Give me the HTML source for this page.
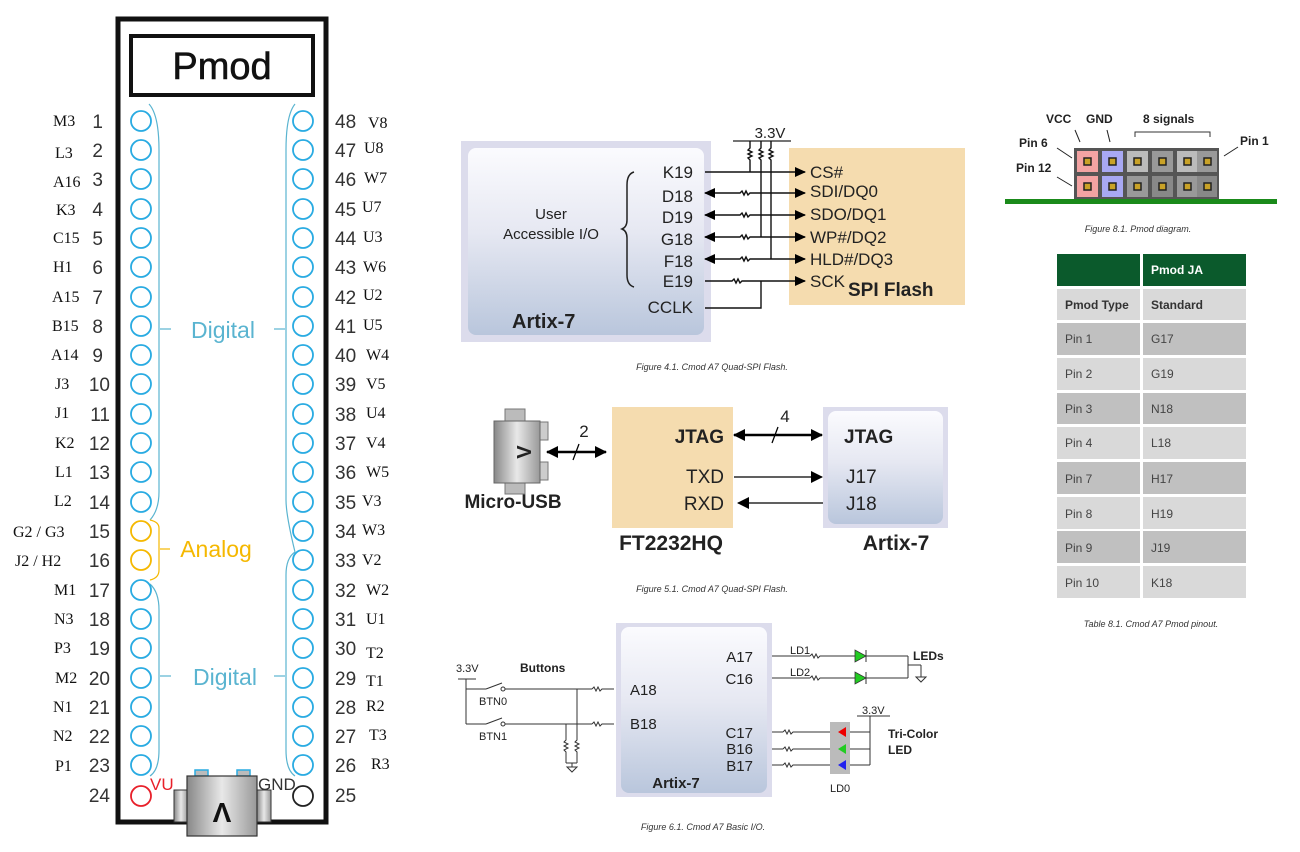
<!DOCTYPE html>
<html><head><meta charset="utf-8"><style>
html,body{margin:0;padding:0;background:#fff;width:1300px;height:852px;overflow:hidden}
svg{display:block}
.sr{font-family:"Liberation Serif",serif;font-size:16px;fill:#111}
.nm{font-family:"Liberation Sans",sans-serif;font-size:19px;fill:#333}
.a{font-family:"Liberation Sans",sans-serif;fill:#222}
.cap{font-family:"Liberation Sans",sans-serif;font-size:9px;font-style:italic;fill:#333}
.pc{fill:none;stroke:#29abe2;stroke-width:1.8}
.tb{font-family:"Liberation Sans",sans-serif;font-size:12px;fill:#444}
</style></head><body>
<svg width="1300" height="852" viewBox="0 0 1300 852" xmlns="http://www.w3.org/2000/svg">
<defs>
<linearGradient id="ag" x1="0" y1="0" x2="0" y2="1"><stop offset="0" stop-color="#fbfbfe"/><stop offset="0.45" stop-color="#e6e8f2"/><stop offset="1" stop-color="#b9c6dc"/></linearGradient>
<linearGradient id="ug" x1="0" y1="0" x2="1" y2="0"><stop offset="0" stop-color="#888"/><stop offset="0.5" stop-color="#e8e8e8"/><stop offset="1" stop-color="#999"/></linearGradient>
<marker id="ar" markerWidth="11" markerHeight="10" refX="10" refY="5" orient="auto" markerUnits="userSpaceOnUse"><path d="M0,0 L11,5 L0,10 z" fill="#000"/></marker>
<marker id="al" markerWidth="11" markerHeight="10" refX="1" refY="5" orient="auto" markerUnits="userSpaceOnUse"><path d="M11,0 L0,5 L11,10 z" fill="#000"/></marker>
<marker id="br" markerWidth="12" markerHeight="12" refX="11" refY="6" orient="auto" markerUnits="userSpaceOnUse"><path d="M0,0 L12,6 L0,12 z" fill="#000"/></marker>
<marker id="bl" markerWidth="12" markerHeight="12" refX="1" refY="6" orient="auto" markerUnits="userSpaceOnUse"><path d="M12,0 L0,6 L12,12 z" fill="#000"/></marker>
</defs>

<!-- ===== Left board ===== -->
<rect x="118" y="19" width="208" height="803" fill="#fff" stroke="#111" stroke-width="5"/>
<rect x="131" y="36" width="182" height="59" fill="#fff" stroke="#111" stroke-width="4"/>
<text x="222" y="79" text-anchor="middle" font-family="Liberation Sans,sans-serif" font-size="38" fill="#111" stroke="#111" stroke-width="0.6">Pmod</text>

<path d="M149,104 Q159,115 159,150 L159,492 Q159,510 150,520" fill="none" stroke="#5ab4d0" stroke-width="1.2"/>
<line x1="160" y1="329" x2="171" y2="329" stroke="#5ab4d0" stroke-width="1.2"/>
<path d="M150,584 Q159,592 159,610 L159,750 Q159,770 150,776" fill="none" stroke="#5ab4d0" stroke-width="1.2"/>
<line x1="160" y1="676" x2="171" y2="676" stroke="#5ab4d0" stroke-width="1.2"/>
<path d="M295,104 Q286,115 286,150 L286,500 Q286,515 295,552" fill="none" stroke="#5ab4d0" stroke-width="1.2"/>
<line x1="274" y1="329" x2="285" y2="329" stroke="#5ab4d0" stroke-width="1.2"/>
<path d="M295,552 Q286,558 286,575 L286,750 Q286,770 295,776" fill="none" stroke="#5ab4d0" stroke-width="1.2"/>
<line x1="274" y1="676" x2="285" y2="676" stroke="#5ab4d0" stroke-width="1.2"/>
<path d="M150,520 Q159,522 159,528 L159,570 Q159,578 150,580" fill="none" stroke="#f5b800" stroke-width="1.2"/>
<line x1="160" y1="549" x2="170" y2="549" stroke="#f5b800" stroke-width="1.2"/>
<text x="223" y="338" text-anchor="middle" font-family="Liberation Sans,sans-serif" font-size="23" fill="#5ab4d0">Digital</text>
<text x="225" y="685" text-anchor="middle" font-family="Liberation Sans,sans-serif" font-size="23" fill="#5ab4d0">Digital</text>
<text x="216" y="557" text-anchor="middle" font-family="Liberation Sans,sans-serif" font-size="23" fill="#f5b800">Analog</text>

<g class="pc">
<circle cx="141" cy="121" r="10"/><circle cx="141" cy="150" r="10"/><circle cx="141" cy="179" r="10"/><circle cx="141" cy="209" r="10"/><circle cx="141" cy="238" r="10"/><circle cx="141" cy="267" r="10"/><circle cx="141" cy="297" r="10"/><circle cx="141" cy="326" r="10"/><circle cx="141" cy="355" r="10"/><circle cx="141" cy="384" r="10"/><circle cx="141" cy="414" r="10"/><circle cx="141" cy="443" r="10"/><circle cx="141" cy="472" r="10"/><circle cx="141" cy="502" r="10"/>
<circle cx="141" cy="590" r="10"/><circle cx="141" cy="619" r="10"/><circle cx="141" cy="648" r="10"/><circle cx="141" cy="678" r="10"/><circle cx="141" cy="707" r="10"/><circle cx="141" cy="736" r="10"/><circle cx="141" cy="765" r="10"/>
<circle cx="303" cy="121" r="10"/><circle cx="303" cy="150" r="10"/><circle cx="303" cy="179" r="10"/><circle cx="303" cy="209" r="10"/><circle cx="303" cy="238" r="10"/><circle cx="303" cy="267" r="10"/><circle cx="303" cy="297" r="10"/><circle cx="303" cy="326" r="10"/><circle cx="303" cy="355" r="10"/><circle cx="303" cy="384" r="10"/><circle cx="303" cy="414" r="10"/><circle cx="303" cy="443" r="10"/><circle cx="303" cy="472" r="10"/><circle cx="303" cy="502" r="10"/><circle cx="303" cy="531" r="10"/><circle cx="303" cy="560" r="10"/><circle cx="303" cy="590" r="10"/><circle cx="303" cy="619" r="10"/><circle cx="303" cy="648" r="10"/><circle cx="303" cy="678" r="10"/><circle cx="303" cy="707" r="10"/><circle cx="303" cy="736" r="10"/><circle cx="303" cy="765" r="10"/>
</g>
<circle cx="141" cy="531" r="10" fill="none" stroke="#f5b800" stroke-width="1.8"/>
<circle cx="141" cy="560" r="10" fill="none" stroke="#f5b800" stroke-width="1.8"/>
<circle cx="141" cy="796" r="10" fill="none" stroke="#e8202a" stroke-width="1.8"/>
<circle cx="303" cy="796" r="10" fill="none" stroke="#222" stroke-width="1.8"/>
<text x="150" y="790" font-family="Liberation Sans,sans-serif" font-size="17" fill="#e8202a">VU</text>
<text x="258" y="790" font-family="Liberation Sans,sans-serif" font-size="17" fill="#333">GND</text>

<rect x="195" y="770" width="13" height="6" fill="#bbb" stroke="#29abe2" stroke-width="1.5"/>
<rect x="237" y="770" width="13" height="6" fill="#bbb" stroke="#29abe2" stroke-width="1.5"/>
<rect x="174" y="790" width="14" height="32" fill="url(#ug)" stroke="#333" stroke-width="1"/>
<rect x="257" y="790" width="14" height="32" fill="url(#ug)" stroke="#333" stroke-width="1"/>
<rect x="187" y="776" width="70" height="60" fill="url(#ug)" stroke="#333" stroke-width="1.2"/>
<text x="222" y="822" text-anchor="middle" font-family="Liberation Sans,sans-serif" font-size="28" font-weight="bold" fill="#111">Λ</text>

<g class="sr">
<text x="53" y="126">M3</text><text x="55" y="158">L3</text><text x="53" y="187">A16</text><text x="56" y="215">K3</text><text x="53" y="243">C15</text><text x="53" y="272">H1</text><text x="52" y="302">A15</text><text x="52" y="331">B15</text><text x="51" y="360">A14</text><text x="55" y="389">J3</text><text x="55" y="418">J1</text><text x="55" y="448">K2</text><text x="55" y="477">L1</text><text x="54" y="506">L2</text><text x="13" y="537">G2 / G3</text><text x="15" y="566">J2 / H2</text><text x="54" y="595">M1</text><text x="54" y="624">N3</text><text x="54" y="653">P3</text><text x="55" y="683">M2</text><text x="53" y="712">N1</text><text x="53" y="741">N2</text><text x="55" y="771">P1</text>
</g>
<g class="nm" text-anchor="end">
<text x="103" y="128">1</text><text x="103" y="157">2</text><text x="103" y="186">3</text><text x="103" y="216">4</text><text x="103" y="245">5</text><text x="103" y="274">6</text><text x="103" y="304">7</text><text x="103" y="333">8</text><text x="103" y="362">9</text><text x="110" y="391">10</text><text x="110" y="421">11</text><text x="110" y="450">12</text><text x="110" y="479">13</text><text x="110" y="509">14</text><text x="110" y="538">15</text><text x="110" y="567">16</text><text x="110" y="597">17</text><text x="110" y="626">18</text><text x="110" y="655">19</text><text x="110" y="685">20</text><text x="110" y="714">21</text><text x="110" y="743">22</text><text x="110" y="772">23</text><text x="110" y="802">24</text>
</g>
<g class="nm">
<text x="335" y="128">48</text><text x="335" y="157">47</text><text x="335" y="186">46</text><text x="335" y="216">45</text><text x="335" y="245">44</text><text x="335" y="274">43</text><text x="335" y="304">42</text><text x="335" y="333">41</text><text x="335" y="362">40</text><text x="335" y="391">39</text><text x="335" y="421">38</text><text x="335" y="450">37</text><text x="335" y="479">36</text><text x="335" y="509">35</text><text x="335" y="538">34</text><text x="335" y="567">33</text><text x="335" y="597">32</text><text x="335" y="626">31</text><text x="335" y="655">30</text><text x="335" y="685">29</text><text x="335" y="714">28</text><text x="335" y="743">27</text><text x="335" y="772">26</text><text x="335" y="802">25</text>
</g>
<g class="sr">
<text x="368" y="128">V8</text><text x="364" y="153">U8</text><text x="364" y="183">W7</text><text x="362" y="212">U7</text><text x="363" y="242">U3</text><text x="363" y="272">W6</text><text x="363" y="300">U2</text><text x="363" y="330">U5</text><text x="366" y="360">W4</text><text x="366" y="389">V5</text><text x="366" y="418">U4</text><text x="366" y="448">V4</text><text x="366" y="477">W5</text><text x="362" y="506">V3</text><text x="362" y="535">W3</text><text x="362" y="565">V2</text><text x="366" y="595">W2</text><text x="366" y="624">U1</text><text x="366" y="658">T2</text><text x="366" y="686">T1</text><text x="366" y="711">R2</text><text x="369" y="740">T3</text><text x="371" y="769">R3</text>
</g>

<!-- ===== Fig 4.1 ===== -->
<rect x="461" y="141" width="250" height="201" fill="#dcdcec"/>
<rect x="468" y="148" width="236" height="187" rx="8" fill="url(#ag)"/>
<text x="551" y="219" text-anchor="middle" class="a" font-size="15" fill="#444">User</text>
<text x="551" y="239" text-anchor="middle" class="a" font-size="15" fill="#444">Accessible I/O</text>
<path d="M634,172 Q627,174 627,185 L627,220 Q627,227 622,229 Q627,231 627,238 L627,275 Q627,285 634,287" fill="none" stroke="#222" stroke-width="1.5"/>
<g class="a" font-size="17" text-anchor="end">
<text x="693" y="178">K19</text><text x="693" y="202">D18</text><text x="693" y="223">D19</text><text x="693" y="245">G18</text><text x="693" y="267">F18</text><text x="693" y="287">E19</text><text x="693" y="313">CCLK</text>
</g>
<text x="512" y="328" class="a" font-size="20" font-weight="bold">Artix-7</text>
<rect x="789" y="148" width="176" height="157" fill="#f5dcaf"/>
<g class="a" font-size="17">
<text x="810" y="178">CS#</text><text x="810" y="197">SDI/DQ0</text><text x="810" y="220">SDO/DQ1</text><text x="810" y="243">WP#/DQ2</text><text x="810" y="265">HLD#/DQ3</text><text x="810" y="287">SCK</text>
</g>
<text x="848" y="296" class="a" font-size="19" font-weight="bold">SPI Flash</text>
<text x="770" y="138" text-anchor="middle" class="a" font-size="15">3.3V</text>
<line x1="733" y1="141" x2="791" y2="141" stroke="#222" stroke-width="1.3"/>
<g fill="none" stroke="#111" stroke-width="1.4">
<path d="M750,141 L750,148 l-2,2 4,2 -4,2 4,2 -4,2 2,2 L750,172"/>
<path d="M761,141 L761,148 l-2,2 4,2 -4,2 4,2 -4,2 2,2 L761,237"/>
<path d="M771,141 L771,148 l-2,2 4,2 -4,2 4,2 -4,2 2,2 L771,259"/>
<line x1="705" y1="172" x2="805" y2="172" marker-end="url(#ar)"/>
<path d="M705,193 L740,193 l2,-2 2,4 2,-4 2,4 2,-2 L805,193" marker-start="url(#al)" marker-end="url(#ar)"/>
<path d="M705,215 L740,215 l2,-2 2,4 2,-4 2,4 2,-2 L805,215" marker-start="url(#al)" marker-end="url(#ar)"/>
<path d="M705,237 L740,237 l2,-2 2,4 2,-4 2,4 2,-2 L805,237" marker-start="url(#al)" marker-end="url(#ar)"/>
<path d="M705,259 L740,259 l2,-2 2,4 2,-4 2,4 2,-2 L805,259" marker-start="url(#al)" marker-end="url(#ar)"/>
<path d="M705,281 L732,281 l2,-2 2,4 2,-4 2,4 2,-2 L805,281" marker-end="url(#ar)"/>
<path d="M705,308 L761,308 L761,281"/>
</g>
<text x="712" y="370" text-anchor="middle" class="cap">Figure 4.1. Cmod A7 Quad-SPI Flash.</text>

<!-- ===== Fig 5.1 ===== -->
<rect x="505" y="409" width="20" height="12" fill="#bbb" stroke="#777"/>
<rect x="505" y="482" width="20" height="12" fill="#bbb" stroke="#777"/>
<rect x="540" y="422" width="8" height="18" fill="#ccc" stroke="#777"/>
<rect x="540" y="462" width="8" height="18" fill="#ccc" stroke="#777"/>
<rect x="494" y="421" width="46" height="62" fill="url(#ug)" stroke="#666"/>
<text x="517" y="452" text-anchor="middle" transform="rotate(90 517 452)" class="a" font-size="20" font-weight="bold">Λ</text>
<text x="513" y="508" text-anchor="middle" class="a" font-size="19" font-weight="bold">Micro-USB</text>
<rect x="612" y="407" width="121" height="121" fill="#f5dcaf"/>
<rect x="823" y="407" width="125" height="121" fill="#dcdcec"/>
<rect x="828" y="411" width="115" height="113" rx="8" fill="url(#ag)"/>
<text x="724" y="443" text-anchor="end" class="a" font-size="19" font-weight="bold">JTAG</text>
<text x="724" y="483" text-anchor="end" class="a" font-size="19">TXD</text>
<text x="724" y="510" text-anchor="end" class="a" font-size="19">RXD</text>
<text x="844" y="443" class="a" font-size="19" font-weight="bold">JTAG</text>
<text x="846" y="483" class="a" font-size="19">J17</text>
<text x="846" y="510" class="a" font-size="19">J18</text>
<text x="671" y="550" text-anchor="middle" class="a" font-size="21" font-weight="bold">FT2232HQ</text>
<text x="896" y="550" text-anchor="middle" class="a" font-size="21" font-weight="bold">Artix-7</text>
<g stroke="#000" stroke-width="2.5" fill="none">
<line x1="547" y1="452" x2="606" y2="452" marker-start="url(#bl)" marker-end="url(#br)"/>
<line x1="734" y1="435" x2="822" y2="435" marker-start="url(#bl)" marker-end="url(#br)"/>
</g>
<g stroke="#000" stroke-width="1.3" fill="none">
<line x1="573" y1="460" x2="579" y2="444"/><line x1="772" y1="443" x2="778" y2="427"/>
<line x1="734" y1="477" x2="822" y2="477" marker-end="url(#br)"/>
<line x1="738" y1="503" x2="823" y2="503" marker-start="url(#bl)"/>
</g>
<text x="584" y="437" text-anchor="middle" class="a" font-size="17">2</text>
<text x="785" y="422" text-anchor="middle" class="a" font-size="17">4</text>
<text x="712" y="592" text-anchor="middle" class="cap">Figure 5.1. Cmod A7 Quad-SPI Flash.</text>

<!-- ===== Fig 6.1 ===== -->
<rect x="616" y="623" width="156" height="174" fill="#dcdcec"/>
<rect x="621" y="627" width="146" height="166" rx="8" fill="url(#ag)"/>
<text x="676" y="788" class="a" font-size="15" font-weight="bold" text-anchor="middle">Artix-7</text>
<g class="a" font-size="15">
<text x="753" y="662" text-anchor="end">A17</text><text x="753" y="684" text-anchor="end">C16</text>
<text x="753" y="738" text-anchor="end">C17</text><text x="753" y="754" text-anchor="end">B16</text><text x="753" y="771" text-anchor="end">B17</text>
<text x="630" y="695">A18</text><text x="630" y="729">B18</text>
</g>
<g class="a" font-size="11">
<text x="456" y="672">3.3V</text><text x="520" y="672" font-weight="bold" font-size="12">Buttons</text>
<text x="479" y="705">BTN0</text><text x="479" y="740">BTN1</text>
<text x="790" y="654">LD1</text><text x="790" y="676">LD2</text>
<text x="862" y="714">3.3V</text>
<text x="888" y="738" font-weight="bold" font-size="12">Tri-Color</text><text x="888" y="754" font-weight="bold" font-size="12">LED</text>
<text x="913" y="660" font-weight="bold" font-size="12">LEDs</text>
<text x="830" y="792">LD0</text>
</g>
<g stroke="#333" stroke-width="1" fill="none">
<line x1="458" y1="679" x2="476" y2="679"/><line x1="466" y1="679" x2="466" y2="724"/>
<line x1="466" y1="689" x2="486" y2="689"/><line x1="486" y1="689" x2="502" y2="683"/><circle cx="503" cy="689" r="2"/>
<line x1="505" y1="689" x2="592" y2="689"/><path d="M592,689 l2,-2 2,4 2,-4 2,4 2,-2 L614,689"/>
<line x1="466" y1="724" x2="486" y2="724"/><line x1="486" y1="724" x2="502" y2="718"/><circle cx="503" cy="724" r="2"/>
<line x1="505" y1="724" x2="592" y2="724"/><path d="M592,724 l2,-2 2,4 2,-4 2,4 2,-2 L614,724"/>
<path d="M577,689 L577,740 l-2,2 4,2 -4,2 4,2 -4,2 2,2 L577,763"/>
<path d="M566,724 L566,740 l-2,2 4,2 -4,2 4,2 -4,2 2,2 L566,763"/>
<line x1="566" y1="763" x2="577" y2="763"/><line x1="572" y1="763" x2="572" y2="767"/>
<path d="M567,767 L577,767 L572,772 z"/>
<line x1="772" y1="656" x2="810" y2="656"/><path d="M810,656 l2,-2 2,4 2,-4 2,4 2,-2 L855,656"/>
<line x1="772" y1="678" x2="810" y2="678"/><path d="M810,678 l2,-2 2,4 2,-4 2,4 2,-2 L855,678"/>
<line x1="866" y1="656" x2="908" y2="656"/><line x1="866" y1="678" x2="908" y2="678"/>
<line x1="908" y1="656" x2="908" y2="678"/><line x1="908" y1="665" x2="921" y2="665"/><line x1="921" y1="665" x2="921" y2="677"/>
<path d="M916,677 L926,677 L921,682 z"/>
<line x1="772" y1="732" x2="783" y2="732"/><path d="M783,732 l2,-2 2,4 2,-4 2,4 2,-2 L832,732"/>
<line x1="772" y1="749" x2="783" y2="749"/><path d="M783,749 l2,-2 2,4 2,-4 2,4 2,-2 L832,749"/>
<line x1="772" y1="765" x2="783" y2="765"/><path d="M783,765 l2,-2 2,4 2,-4 2,4 2,-2 L832,765"/>
<line x1="850" y1="732" x2="870" y2="732"/><line x1="850" y1="749" x2="870" y2="749"/><line x1="850" y1="765" x2="870" y2="765"/>
<line x1="870" y1="716" x2="870" y2="765"/><line x1="857" y1="716" x2="890" y2="716"/>
</g>
<rect x="830" y="722" width="20" height="52" fill="#bbb"/>
<path d="M855,650 L855,662 L866,656 z" fill="#22cc22" stroke="#333" stroke-width="0.8"/><line x1="866" y1="650" x2="866" y2="662" stroke="#333"/>
<path d="M855,672 L855,684 L866,678 z" fill="#22cc22" stroke="#333" stroke-width="0.8"/><line x1="866" y1="672" x2="866" y2="684" stroke="#333"/>
<path d="M846,727 L846,737 L838,732 z" fill="#e00"/><path d="M846,744 L846,754 L838,749 z" fill="#2c2"/><path d="M846,760 L846,770 L838,765 z" fill="#22e"/>
<text x="703" y="830" text-anchor="middle" class="cap">Figure 6.1. Cmod A7 Basic I/O.</text>

<!-- ===== Pmod diagram ===== -->
<text x="1046" y="123" class="a" font-size="12" font-weight="bold">VCC</text>
<text x="1086" y="123" class="a" font-size="12" font-weight="bold">GND</text>
<text x="1143" y="123" class="a" font-size="12" font-weight="bold">8 signals</text>
<text x="1019" y="147" class="a" font-size="12" font-weight="bold">Pin 6</text>
<text x="1016" y="172" class="a" font-size="12" font-weight="bold">Pin 12</text>
<text x="1240" y="145" class="a" font-size="12" font-weight="bold">Pin 1</text>
<path d="M1135,137 L1135,132 L1210,132 L1210,137" fill="none" stroke="#333"/>
<g stroke="#222" stroke-width="1"><line x1="1075" y1="130" x2="1080" y2="142"/><line x1="1107" y1="130" x2="1110" y2="142"/><line x1="1057" y1="148" x2="1072" y2="158"/><line x1="1057" y1="177" x2="1072" y2="186"/><line x1="1238" y1="147" x2="1224" y2="156"/></g>
<rect x="1005" y="199" width="272" height="5" fill="#1a8a1a"/>
<rect x="1074" y="148" width="145" height="51" fill="#555"/>
<g>
<rect x="1077" y="151" width="21" height="21" fill="#f3a3a3"/><rect x="1102" y="151" width="21" height="21" fill="#a8a8f3"/><rect x="1127" y="151" width="21" height="21" fill="#bbb"/><rect x="1152" y="151" width="21" height="21" fill="#999"/><rect x="1177" y="151" width="21" height="21" fill="#bbb"/><rect x="1197" y="151" width="20" height="21" fill="#999"/>
<rect x="1077" y="176" width="21" height="21" fill="#f3a3a3"/><rect x="1102" y="176" width="21" height="21" fill="#a8a8f3"/><rect x="1127" y="176" width="21" height="21" fill="#999"/><rect x="1152" y="176" width="21" height="21" fill="#888"/><rect x="1177" y="176" width="21" height="21" fill="#999"/><rect x="1197" y="176" width="20" height="21" fill="#888"/>
</g>
<g fill="#c9a227" stroke="#222" stroke-width="1.5">
<rect x="1084" y="158" width="7" height="7"/><rect x="1109" y="158" width="7" height="7"/><rect x="1134" y="158" width="7" height="7"/><rect x="1159" y="158" width="7" height="7"/><rect x="1184" y="158" width="7" height="7"/><rect x="1204" y="158" width="7" height="7"/>
<rect x="1084" y="183" width="7" height="7"/><rect x="1109" y="183" width="7" height="7"/><rect x="1134" y="183" width="7" height="7"/><rect x="1159" y="183" width="7" height="7"/><rect x="1184" y="183" width="7" height="7"/><rect x="1204" y="183" width="7" height="7"/>
</g>
<text x="1138" y="232" text-anchor="middle" class="cap" font-size="8">Figure 8.1. Pmod diagram.</text>

<!-- ===== Table ===== -->
<rect x="1057" y="254" width="83" height="32" fill="#0b5a2c"/><rect x="1143" y="254" width="103" height="32" fill="#0b5a2c"/>
<text x="1151" y="274" class="tb" font-weight="bold" style="fill:#fff">Pmod JA</text>
<rect x="1057" y="289" width="83" height="31" fill="#d9d9d9"/><rect x="1143" y="289" width="103" height="31" fill="#d9d9d9"/>
<text x="1065" y="309" class="tb" font-weight="bold" style="fill:#333">Pmod Type</text><text x="1151" y="309" class="tb" font-weight="bold" style="fill:#333">Standard</text>
<rect x="1057" y="323" width="83" height="32" fill="#c0c0c0"/><rect x="1143" y="323" width="103" height="32" fill="#c0c0c0"/>
<text x="1065" y="343" class="tb">Pin 1</text><text x="1151" y="343" class="tb">G17</text>
<rect x="1057" y="358" width="83" height="32" fill="#d9d9d9"/><rect x="1143" y="358" width="103" height="32" fill="#d9d9d9"/>
<text x="1065" y="378" class="tb">Pin 2</text><text x="1151" y="378" class="tb">G19</text>
<rect x="1057" y="393" width="83" height="31" fill="#c0c0c0"/><rect x="1143" y="393" width="103" height="31" fill="#c0c0c0"/>
<text x="1065" y="413" class="tb">Pin 3</text><text x="1151" y="413" class="tb">N18</text>
<rect x="1057" y="427" width="83" height="32" fill="#d9d9d9"/><rect x="1143" y="427" width="103" height="32" fill="#d9d9d9"/>
<text x="1065" y="447" class="tb">Pin 4</text><text x="1151" y="447" class="tb">L18</text>
<rect x="1057" y="462" width="83" height="32" fill="#c0c0c0"/><rect x="1143" y="462" width="103" height="32" fill="#c0c0c0"/>
<text x="1065" y="483" class="tb">Pin 7</text><text x="1151" y="483" class="tb">H17</text>
<rect x="1057" y="497" width="83" height="32" fill="#d9d9d9"/><rect x="1143" y="497" width="103" height="32" fill="#d9d9d9"/>
<text x="1065" y="518" class="tb">Pin 8</text><text x="1151" y="518" class="tb">H19</text>
<rect x="1057" y="531" width="83" height="32" fill="#c0c0c0"/><rect x="1143" y="531" width="103" height="32" fill="#c0c0c0"/>
<text x="1065" y="552" class="tb">Pin 9</text><text x="1151" y="552" class="tb">J19</text>
<rect x="1057" y="566" width="83" height="32" fill="#d9d9d9"/><rect x="1143" y="566" width="103" height="32" fill="#d9d9d9"/>
<text x="1065" y="587" class="tb">Pin 10</text><text x="1151" y="587" class="tb">K18</text>
<text x="1151" y="627" text-anchor="middle" class="cap" font-size="9">Table 8.1. Cmod A7 Pmod pinout.</text>
</svg>
</body></html>
